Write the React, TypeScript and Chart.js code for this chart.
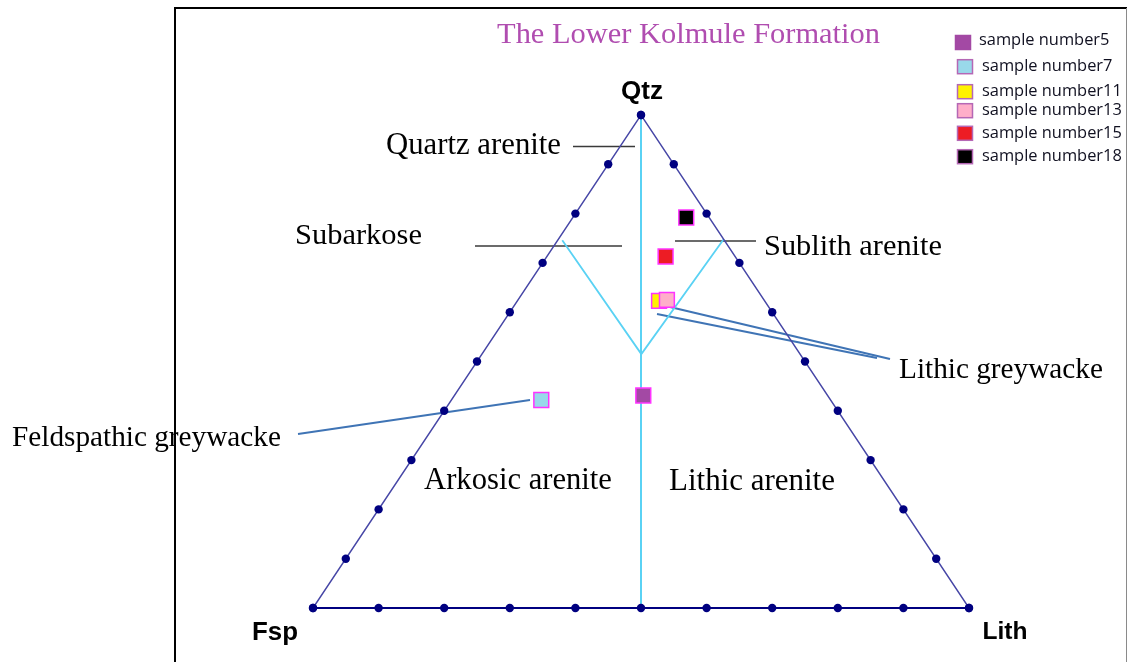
import React, { useEffect, useRef } from "react";
import { Chart, registerables } from "chart.js";

Chart.register(...registerables);

// Sample compositions (percent): quartz, feldspar, lithic fragments
const samples = [
  "sample number5",
  "sample number7",
  "sample number11",
  "sample number13",
  "sample number15",
  "sample number18",
];
const qtz = [43.1, 42.2, 62.3, 62.5, 71.3, 79.2];
const fsp = [28.1, 44.1, 16.1, 14.8, 10.6, 3.5];
const lith = [28.8, 13.7, 21.6, 22.7, 18.1, 17.3];
const sampleColors = ["#a349a4", "#99d9ea", "#fff200", "#ffaec9", "#ed1c24", "#000000"];

// Ternary grid ticks along each side (percent)
const sideTicks = [0, 10, 20, 30, 40, 50, 60, 70, 80, 90, 100];

// Classification boundaries as [Qtz, Fsp, Lith] vertices
const centralDivide = [
  [100, 0, 0],
  [0, 50, 50],
];
const quartzBoundary = [
  [74.6, 24.7, 0.7],
  [51.5, 24.2, 24.3],
  [74.8, 0, 25.2],
];

const W = 1128;
const H = 662;

// Fsp at the lower left, Lith at the lower right, Qtz at the apex
function toXY(q: number, f: number, l: number) {
  const s = q + f + l;
  return { x: (l + q / 2) / s, y: q / s };
}

function fitFont(
  ctx: CanvasRenderingContext2D,
  text: string,
  width: number,
  family: string,
  weight = "normal"
) {
  ctx.font = `${weight} 100px ${family}`;
  const w = ctx.measureText(text).width;
  const size = (100 * width) / w;
  ctx.font = `${weight} ${size}px ${family}`;
  return size;
}

const SERIF = '"Liberation Serif", "Times New Roman", serif';
const SANS = '"Liberation Sans", Arial, sans-serif';
const LEGEND_FONT = '"Open Sans", "Noto Sans", sans-serif';

const serifLabels = [
  { text: "Quartz arenite", cx: 473.5, cy: 146, w: 175 },
  { text: "Subarkose", cx: 358.5, cy: 236, w: 127 },
  { text: "Sublith arenite", cx: 853, cy: 247, w: 178 },
  { text: "Lithic greywacke", cx: 1001, cy: 370, w: 204 },
  { text: "Feldspathic greywacke", cx: 146.5, cy: 438, w: 269 },
  { text: "Arkosic arenite", cx: 518, cy: 481, w: 188 },
  { text: "Lithic arenite", cx: 752, cy: 482, w: 166 },
];

const apexLabels = [
  { text: "Qtz", cx: 642, cy: 92, w: 42 },
  { text: "Fsp", cx: 275, cy: 633, w: 46 },
  { text: "Lith", cx: 1005, cy: 632, w: 45 },
];

const blackLeaders = [
  [573, 146.5, 635, 146.5],
  [475, 246, 622, 246],
  [675, 241, 756, 241],
];
const blueLeaders = [
  [298, 434, 530, 400],
  [670, 307, 890, 359],
  [657, 314, 877, 358],
];

const legendRows = [42.5, 66.7, 91.7, 110.7, 133.3, 156.7];

const decorPlugin = {
  id: "decor",
  beforeDatasetsDraw(chart: any) {
    const ctx: CanvasRenderingContext2D = chart.ctx;
    ctx.save();
    ctx.lineCap = "butt";
    ctx.strokeStyle = "#3a3a3a";
    ctx.lineWidth = 1.6;
    for (const [x1, y1, x2, y2] of blackLeaders) {
      ctx.beginPath();
      ctx.moveTo(x1, y1);
      ctx.lineTo(x2, y2);
      ctx.stroke();
    }
    ctx.strokeStyle = "#3f74b5";
    ctx.lineWidth = 2;
    for (const [x1, y1, x2, y2] of blueLeaders) {
      ctx.beginPath();
      ctx.moveTo(x1, y1);
      ctx.lineTo(x2, y2);
      ctx.stroke();
    }
    ctx.restore();
  },
  afterDraw(chart: any) {
    const ctx: CanvasRenderingContext2D = chart.ctx;
    ctx.save();

    // frame
    ctx.strokeStyle = "#000";
    ctx.lineWidth = 2;
    ctx.beginPath();
    ctx.moveTo(175, H);
    ctx.lineTo(175, 8);
    ctx.lineTo(1127, 8);
    ctx.stroke();
    ctx.strokeStyle = "#8a8a8a";
    ctx.lineWidth = 1;
    ctx.beginPath();
    ctx.moveTo(1126.5, 8);
    ctx.lineTo(1126.5, H);
    ctx.stroke();

    ctx.textAlign = "center";
    ctx.textBaseline = "middle";

    // title
    ctx.fillStyle = "#b04db0";
    fitFont(ctx, "The Lower Kolmule Formation", 383, SERIF);
    ctx.fillText("The Lower Kolmule Formation", 688.5, 35);

    ctx.fillStyle = "#000";
    for (const l of serifLabels) {
      fitFont(ctx, l.text, l.w, SERIF);
      ctx.fillText(l.text, l.cx, l.cy);
    }
    for (const l of apexLabels) {
      fitFont(ctx, l.text, l.w, SANS, "bold");
      ctx.fillText(l.text, l.cx, l.cy);
    }

    // legend
    fitFont(ctx, "sample number11", 140, LEGEND_FONT);
    ctx.textAlign = "left";
    samples.forEach((name, i) => {
      const y = legendRows[i];
      const sx = i === 0 ? 955.5 : 957.5;
      ctx.fillStyle = sampleColors[i];
      ctx.fillRect(sx, y - 7, 15, 14);
      ctx.strokeStyle = i === 0 ? "#a349a4" : "#b567b5";
      ctx.lineWidth = 1.5;
      ctx.strokeRect(sx, y - 7, 15, 14);
      ctx.fillStyle = "#101020";
      ctx.fillText(name, i === 0 ? 979 : 982, y - (i === 0 ? 2 : 0));
    });

    ctx.restore();
  },
};

export default function App() {
  const ref = useRef<HTMLCanvasElement | null>(null);

  useEffect(() => {
    if (!ref.current) return;

    const sampleSets = samples.map((name, i) => ({
      label: name,
      data: [toXY(qtz[i], fsp[i], lith[i])],
      pointStyle: "rect",
      pointRadius: 10.5,
      backgroundColor: sampleColors[i],
      borderColor: "#ff33ff",
      borderWidth: 1.5,
      order: 6 - i,
      clip: false,
    }));

    const leftSide = sideTicks.map((t) => toXY(t, 100 - t, 0));
    const rightSide = sideTicks.map((t) => toXY(t, 0, 100 - t));
    const bottomSide = sideTicks.map((t) => toXY(0, 100 - t, t));

    const tickDots = [...leftSide, ...rightSide, ...bottomSide];

    const chart = new Chart(ref.current, {
      type: "scatter",
      data: {
        datasets: [
          ...sampleSets,
          {
            label: "ticks",
            data: tickDots,
            pointRadius: 4.2,
            backgroundColor: "#000080",
            borderWidth: 0,
            order: 10,
            clip: false,
          },
          {
            label: "sides",
            data: [toXY(0, 100, 0), toXY(100, 0, 0), toXY(0, 0, 100)],
            showLine: true,
            pointRadius: 0,
            borderColor: "#4646a6",
            borderWidth: 1.4,
            order: 20,
            clip: false,
          },
          {
            label: "base",
            data: [toXY(0, 100, 0), toXY(0, 0, 100)],
            showLine: true,
            pointRadius: 0,
            borderColor: "#000080",
            borderWidth: 2,
            order: 20,
            clip: false,
          },
          {
            label: "divide",
            data: centralDivide.map(([q, f, l]) => toXY(q, f, l)),
            showLine: true,
            pointRadius: 0,
            borderColor: "#5ad2f4",
            borderWidth: 2,
            order: 21,
            clip: false,
          },
          {
            label: "quartz",
            data: quartzBoundary.map(([q, f, l]) => toXY(q, f, l)),
            showLine: true,
            pointRadius: 0,
            borderColor: "#5ad2f4",
            borderWidth: 1.8,
            order: 21,
            clip: false,
          },
        ] as any,
      },
      options: {
        responsive: false,
        animation: false,
        events: [],
        layout: {
          padding: { left: 313, right: W - 969, top: 115, bottom: H - 608 },
        },
        scales: {
          x: { type: "linear", min: 0, max: 1, display: false },
          y: { type: "linear", min: 0, max: 1, display: false },
        },
        plugins: {
          legend: { display: false },
          tooltip: { enabled: false },
        },
      },
      plugins: [decorPlugin],
    });

    return () => chart.destroy();
  }, []);

  return (
    <div style={{ position: "absolute", left: 0, top: 0, width: W, height: H, background: "#fff" }}>
      <canvas ref={ref} width={W} height={H} style={{ display: "block" }} />
    </div>
  );
}
